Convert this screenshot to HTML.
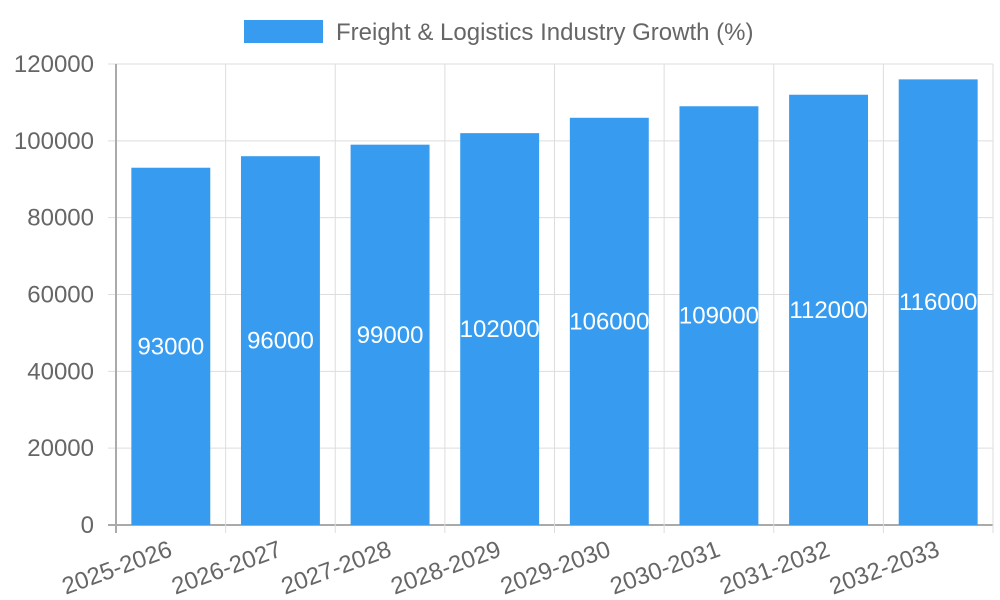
<!DOCTYPE html>
<html><head><meta charset="utf-8"><style>
body{margin:0;background:#fff;}
svg{display:block;font-family:"Liberation Sans",sans-serif;}
</style></head><body>
<svg id="chart" width="1000" height="600">
<g>
<rect x="244" y="20" width="79" height="23" fill="#379cf0"></rect>
<text x="336" y="40" font-size="24" fill="#666">Freight &amp; Logistics Industry Growth (%)</text>
</g>
<g id="grid"></g><g id="bars"></g><g id="axes"></g>
</svg>
<script>
const categories=["2025-2026","2026-2027","2027-2028","2028-2029","2029-2030","2030-2031","2031-2032","2032-2033"];
const values=[93000,96000,99000,102000,106000,109000,112000,116000];
const yTicks=[0,20000,40000,60000,80000,100000,120000];
const X0=116,X1=993,Y0=525,Y1=64,YMAX=120000;
const bw=(X1-X0)/categories.length;
const y=v=>Y0-(v/YMAX)*(Y0-Y1);
const x=i=>X0+i*bw;
const NS="http://www.w3.org/2000/svg";
function mk(t,a,p){const e=document.createElementNS(NS,t);for(const k in a)e.setAttribute(k,a[k]);p.appendChild(e);return e;}
const grid=document.getElementById('grid'),bars=document.getElementById('bars'),axes=document.getElementById('axes');
yTicks.forEach(t=>{
 const l=mk('line',{x1:108,x2:X1,y1:y(t),y2:y(t),stroke:t===0?'#aaa':'#dddddd','stroke-width':t===0?2:1},grid);
 
 
 const tx=mk('text',{x:94,y:y(t)+8,'text-anchor':'end','font-size':24,fill:'#666'},axes);
 tx.textContent=t;
 
 
});
for(let i=0;i<=categories.length;i++){
 const l=mk('line',{x1:x(i),x2:x(i),y1:Y1,y2:533,stroke:i===0?'#aaa':'#dddddd','stroke-width':i===0?2:1},grid);
 
 
}
categories.forEach((c,i)=>{
 const bx=x(i)+bw*0.14,w=bw*0.72;
 const r=mk('rect',{x:bx,y:y(values[i]),width:w,height:Y0-y(values[i]),fill:'#379cf0'},bars);
 
 
 const cx=x(i)+bw/2;
 const vt=mk('text',{x:cx,y:(y(values[i])+Y0)/2+8,'text-anchor':'middle','font-size':24,fill:'#fff'},bars);
 vt.textContent=values[i];
 
 
 const xt=mk('text',{x:cx,y:556,'text-anchor':'end','font-size':24,fill:'#666',transform:`rotate(-20 ${cx} 548)`},axes);
 xt.textContent=c;
 
 
});
</script>
</body></html>
